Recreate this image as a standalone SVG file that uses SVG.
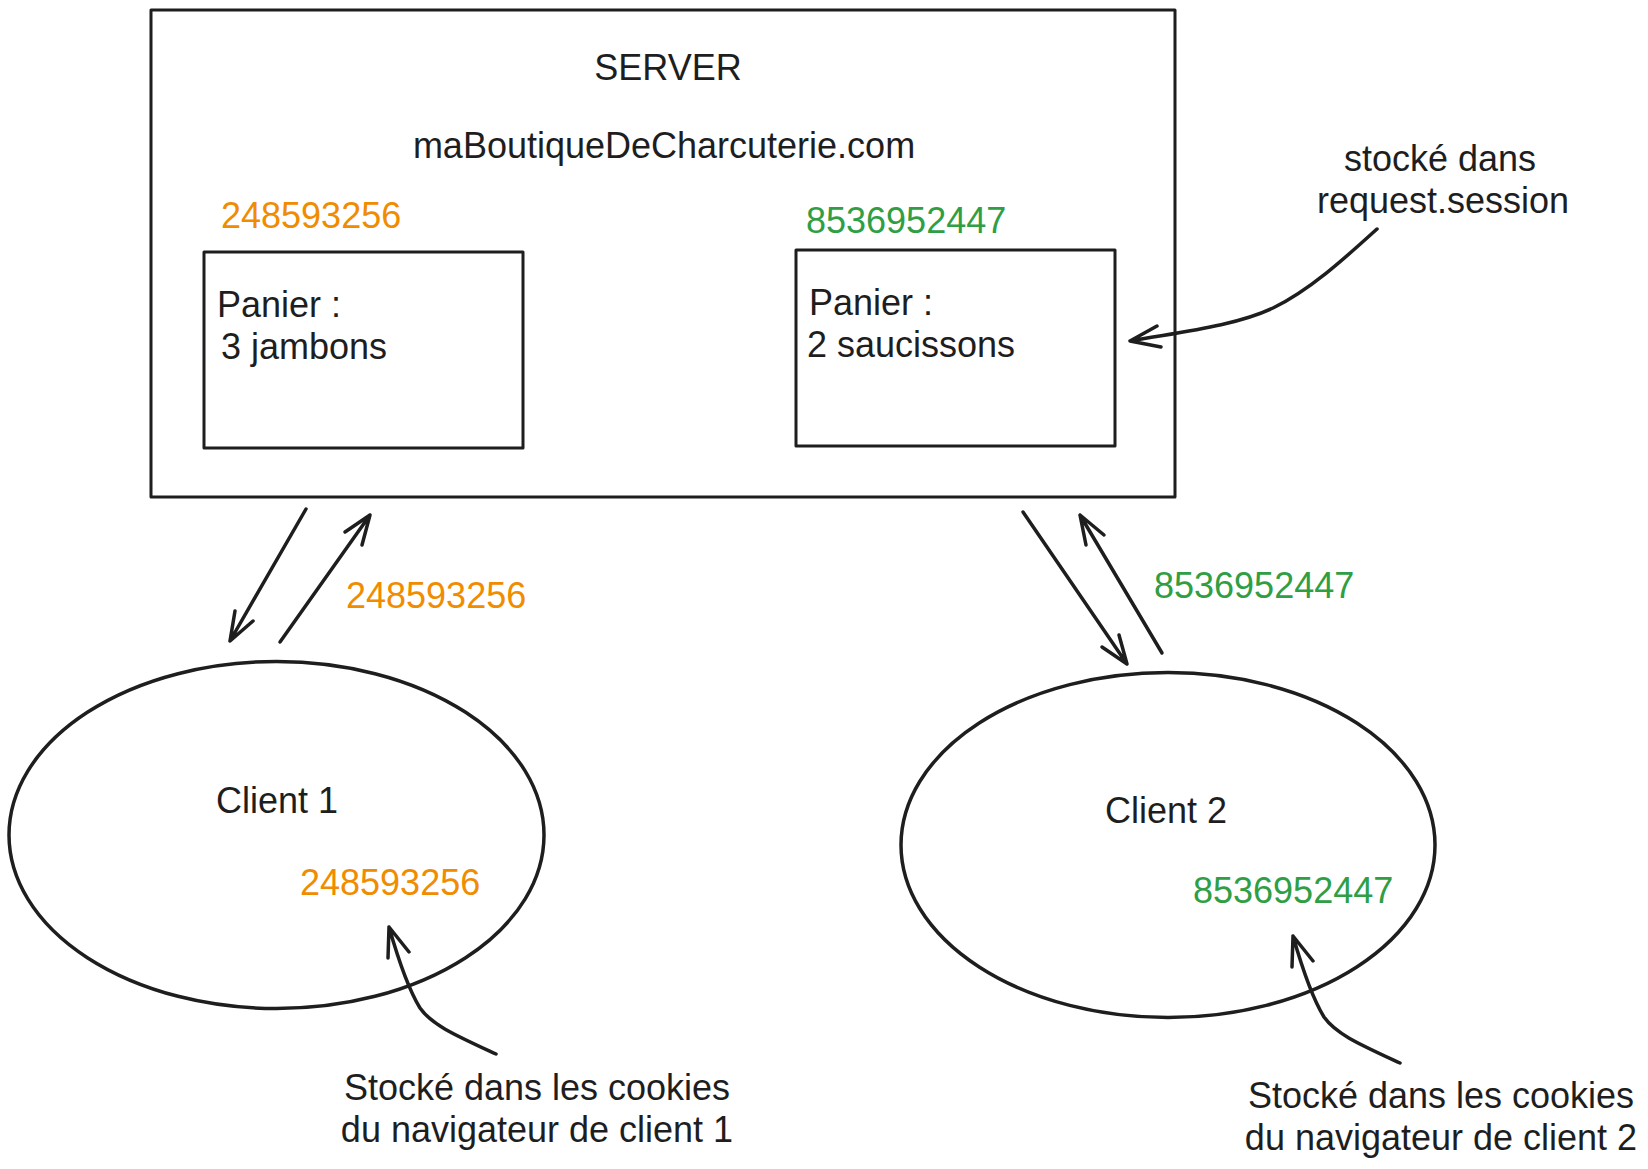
<svg xmlns="http://www.w3.org/2000/svg" width="1648" height="1169" viewBox="0 0 1648 1169">
<style>
.shape{fill:none;stroke:#1e1e1e;stroke-width:3;stroke-linejoin:round}
.ell{fill:none;stroke:#1e1e1e;stroke-width:3.5}
.arr{fill:none;stroke:#1e1e1e;stroke-width:3.5;stroke-linecap:round;stroke-linejoin:round}
text{font-family:"Liberation Sans",Arial,Helvetica,sans-serif;font-size:36px;fill:#1e1e1e}
.c{text-anchor:middle}
.or{fill:#f08c00}
.gr{fill:#2f9e44}
</style>
<rect width="1648" height="1169" fill="#ffffff"/>
<g id="server">
<rect class="shape" x="151" y="10" width="1024" height="487"/>
<text class="c" x="668" y="80">SERVER</text>
<text class="c" x="664" y="158">maBoutiqueDeCharcuterie.com</text>
</g>
<g id="session1">
<text class="or" x="221" y="228">248593256</text>
<rect class="shape" x="204" y="252" width="319" height="196"/>
<text x="217" y="317">Panier :</text>
<text x="221" y="359">3 jambons</text>
</g>
<g id="session2">
<text class="gr" x="806" y="233">8536952447</text>
<rect class="shape" x="796" y="250" width="319" height="196"/>
<text x="809" y="315">Panier :</text>
<text x="807" y="357">2 saucissons</text>
</g>
<g id="note-session">
<text class="c" x="1440" y="171">stocké dans</text>
<text class="c" x="1443" y="213">request.session</text>
</g>
<g id="client1">
<ellipse class="ell" cx="276.5" cy="835" rx="267.5" ry="173.5"/>
<text x="216" y="813">Client 1</text>
<text class="or" x="300" y="895">248593256</text>
</g>
<g id="client2">
<ellipse class="ell" cx="1168" cy="845" rx="267" ry="172.5"/>
<text x="1105" y="823">Client 2</text>
<text class="gr" x="1193" y="903">8536952447</text>
</g>
<g id="note-cookie1">
<text class="c" x="537" y="1100">Stocké dans les cookies</text>
<text class="c" x="537" y="1142">du navigateur de client 1</text>
</g>
<g id="note-cookie2">
<text class="c" x="1441" y="1108">Stocké dans les cookies</text>
<text class="c" x="1441" y="1150">du navigateur de client 2</text>
</g>
<g id="labels">
<text class="or" x="346" y="608">248593256</text>
<text class="gr" x="1154" y="598">8536952447</text>
</g>
<g id="connectors">
<path class="arr" d="M306,509 L230,641 M235,611 L230,641 L253,621"/>
<path class="arr" d="M280,642 L370,515 M345,532 L370,515 L362,545"/>
<path class="arr" d="M1023,512 L1127,664 M1102,647 L1127,664 L1119,635"/>
<path class="arr" d="M1162,653 L1080,515 M1104,535 L1080,515 L1086,545"/>
<path class="arr" d="M1377,229 C1345,258 1310,290 1273,308 C1235,326 1180,332 1130,341 M1157,326 L1130,341 L1161,347"/>
<path class="arr" d="M496,1054 C455,1035 432,1025 420,1008 C407,987 397,955 389,927 M388,958 L389,927 L409,952"/>
<path class="arr" d="M1400,1063 C1359,1044 1336,1034 1324,1017 C1311,996 1301,964 1293,936 M1292,967 L1293,936 L1313,961"/>
</g>
</svg>
